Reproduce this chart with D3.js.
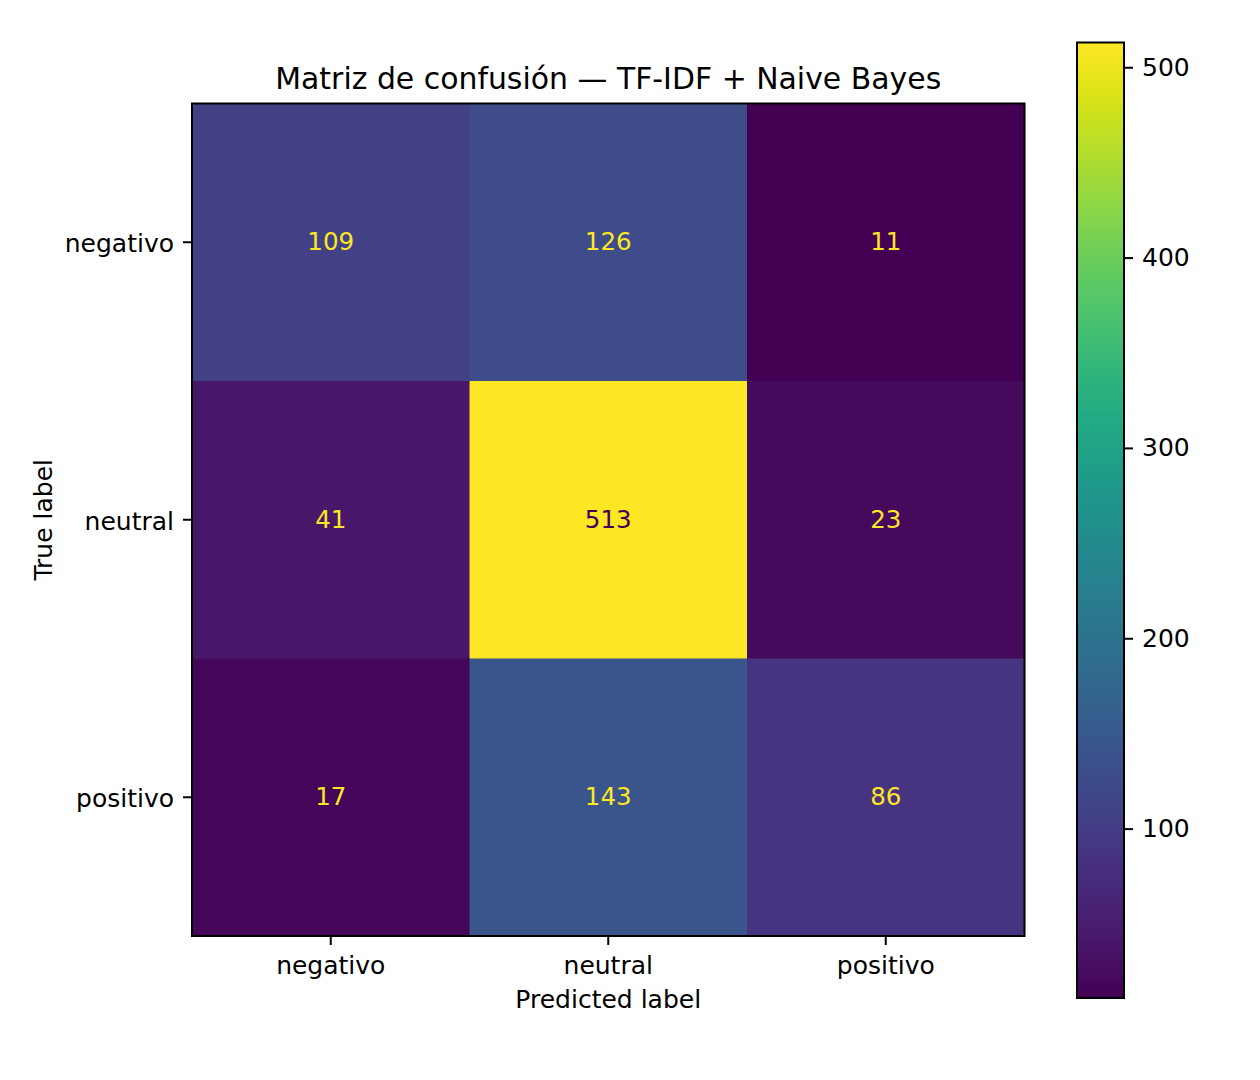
<!DOCTYPE html>
<meta charset="UTF-8">
<head>
<script src="https://cdn.jsdelivr.net/npm/d3@7"></script>
</head>
<style>
body { margin: 0; background: #fff; }
text { font-family: "DejaVu Sans", sans-serif; fill: #000; }
.tick text { font-size: 25px; }
.domain { display: none; }
</style>
<body>
<div id="chart"></div>
<script>

// class names (rows = true label, columns = predicted label)
var classes = ["negativo", "neutral", "positivo"];
var row_negativo = [109, 126, 11];
var row_neutral = [41, 513, 23];
var row_positivo = [17, 143, 86];
var matrix = [row_negativo, row_neutral, row_positivo];
var colorbarTicks = [100, 200, 300, 400, 500];

var W = 1260, H = 1080;
// plot frame
var plotLeft = 192, plotTop = 103.5, size = 832.5;
// colorbar frame
var cbLeft = 1077, cbTop = 42.5, cbWidth = 47, cbBottom = 998;

var svg = d3.select("#chart").append("svg")
    .attr("width", W)
    .attr("height", H);

var allVals = [].concat.apply([], matrix);
var vmin = d3.min(allVals), vmax = d3.max(allVals);
var color = d3.scaleSequential(d3.interpolateViridis).domain([vmin, vmax]);

var x = d3.scaleBand().domain(classes).range([plotLeft, plotLeft + size]);
var y = d3.scaleBand().domain(classes).range([plotTop, plotTop + size]);

// cells
var cells = [];
matrix.forEach(function(row, i) {
  row.forEach(function(v, j) {
    cells.push({ t: classes[i], p: classes[j], v: v });
  });
});

svg.selectAll("rect.cell")
    .data(cells)
  .enter().append("rect")
    .attr("class", "cell")
    .attr("x", function(d) { return x(d.p); })
    .attr("y", function(d) { return y(d.t); })
    .attr("width", x.bandwidth() + 0.5)
    .attr("height", y.bandwidth() + 0.5)
    .attr("fill", function(d) { return color(d.v); });

// cell text: light on dark, dark on light (matplotlib style)
var thresh = (vmin + vmax) / 2;
svg.selectAll("text.val")
    .data(cells)
  .enter().append("text")
    .attr("class", "val")
    .attr("x", function(d) { return x(d.p) + x.bandwidth() / 2; })
    .attr("y", function(d) { return y(d.t) + y.bandwidth() / 2; })
    .attr("dy", "0.32em")
    .attr("text-anchor", "middle")
    .style("font-size", "24.5px")
    .style("fill", function(d) { return d.v < thresh ? color(vmax) : color(vmin); })
    .text(function(d) { return d.v; });

// frame
svg.append("rect")
    .attr("x", plotLeft).attr("y", plotTop)
    .attr("width", size).attr("height", size)
    .attr("fill", "none").attr("stroke", "#000").attr("stroke-width", 2);

// axes
svg.append("g")
    .attr("transform", "translate(0," + (plotTop + size) + ")")
    .call(d3.axisBottom(x).tickSize(9).tickPadding(11));
svg.append("g")
    .attr("transform", "translate(" + plotLeft + ",0)")
    .call(d3.axisLeft(y).tickSize(9).tickPadding(9))
    .selectAll(".tick text").attr("dy", "0.4em");

// title and axis labels
svg.append("text")
    .attr("x", plotLeft + size / 2).attr("y", 88.5)
    .attr("text-anchor", "middle")
    .style("font-size", "29.9px")
    .text("Matriz de confusión — TF-IDF + Naive Bayes");

svg.append("text")
    .attr("x", plotLeft + size / 2).attr("y", 1008)
    .attr("text-anchor", "middle")
    .style("font-size", "25px")
    .text("Predicted label");

svg.append("text")
    .attr("transform", "translate(52," + (plotTop + size / 2) + ") rotate(-90)")
    .attr("text-anchor", "middle")
    .style("font-size", "25px")
    .text("True label");

// colorbar
var defs = svg.append("defs");
var grad = defs.append("linearGradient")
    .attr("id", "cbgrad")
    .attr("x1", 0).attr("y1", 1).attr("x2", 0).attr("y2", 0);
d3.range(0, 1.0001, 0.02).forEach(function(t) {
  grad.append("stop")
      .attr("offset", t)
      .attr("stop-color", d3.interpolateViridis(t));
});

var cbScale = d3.scaleLinear().domain([vmin, vmax]).range([cbBottom, cbTop]);

svg.append("rect")
    .attr("x", cbLeft).attr("y", cbTop)
    .attr("width", cbWidth).attr("height", cbBottom - cbTop)
    .attr("fill", "url(#cbgrad)")
    .attr("stroke", "#000").attr("stroke-width", 2);

svg.append("g")
    .attr("transform", "translate(" + (cbLeft + cbWidth) + ",0)")
    .call(d3.axisRight(cbScale).tickValues(colorbarTicks).tickSize(9).tickPadding(9));

svg.selectAll(".tick line").attr("stroke", "#000").attr("stroke-width", 2);

</script>
</body>
